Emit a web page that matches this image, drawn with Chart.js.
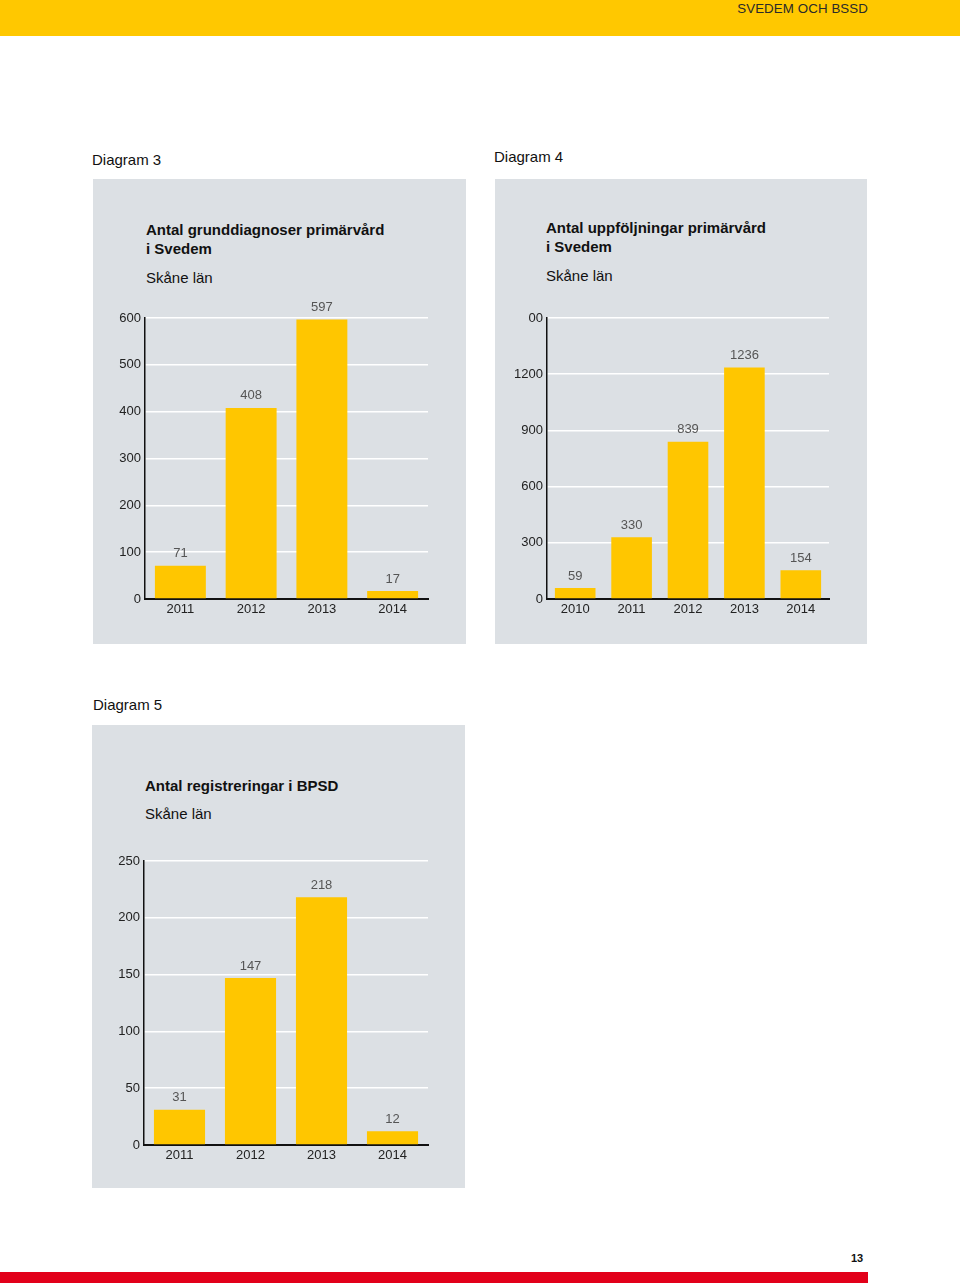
<!DOCTYPE html>
<html>
<head>
<meta charset="utf-8">
<script src="https://cdn.jsdelivr.net/npm/chart.js@4/dist/chart.umd.min.js"></script>
<style>
  html, body { margin: 0; padding: 0; background: #fff; }
  body { width: 960px; height: 1283px; position: relative; overflow: hidden; font-family: "Liberation Sans", Arial, sans-serif; }
  .header { position: absolute; left: 0; top: 0; width: 960px; height: 36px; background: #FFC800; }
  .header span { position: absolute; right: 92px; top: 1px; font-size: 13.3px; color: #2a2a2a; letter-spacing: 0.1px; }
  .diag { position: absolute; font-size: 15px; color: #111; }
  .panel { position: absolute; background: #DCE0E4; }
  .title { position: absolute; font-size: 15px; font-weight: bold; color: #111; line-height: 19px; }
  .sub { position: absolute; font-size: 15px; color: #111; }
  canvas { position: absolute; }
  .pagenum { position: absolute; left: 851px; top: 1252px; font-size: 11px; font-weight: bold; color: #111; }
  .redbar { position: absolute; left: 0; top: 1272px; width: 868px; height: 11px; background: #E2001A; }
</style>
</head>
<body>
<div class="header"><span>SVEDEM OCH BSSD</span></div>

<div class="diag" style="left:92px; top:151px;">Diagram 3</div>
<div class="panel" style="left:93px; top:179px; width:373px; height:465px;"></div>
<div class="title" style="left:146px; top:220px;">Antal grunddiagnoser primärvård<br>i Svedem</div>
<div class="sub" style="left:146px; top:269px;">Skåne län</div>
<canvas id="c1" width="373" height="350" style="left:93px; top:290px;"></canvas>

<div class="diag" style="left:494px; top:148px;">Diagram 4</div>
<div class="panel" style="left:495px; top:179px; width:372px; height:465px;"></div>
<div class="title" style="left:546px; top:218px;">Antal uppföljningar primärvård<br>i Svedem</div>
<div class="sub" style="left:546px; top:267px;">Skåne län</div>
<canvas id="c2" width="372" height="350" style="left:495px; top:290px;"></canvas>

<div class="diag" style="left:93px; top:696px;">Diagram 5</div>
<div class="panel" style="left:92px; top:725px; width:373px; height:463px;"></div>
<div class="title" style="left:145px; top:776px;">Antal registreringar i BPSD</div>
<div class="sub" style="left:145px; top:805px;">Skåne län</div>
<canvas id="c3" width="373" height="353" style="left:92px; top:833px;"></canvas>

<div class="pagenum">13</div>
<div class="redbar"></div>

<script>
// ---- Data ----
const years3 = ["2011", "2012", "2013", "2014"];
const values3 = [71, 408, 597, 17];
const ticks3 = ["0", "100", "200", "300", "400", "500", "600"];

const years4 = ["2010", "2011", "2012", "2013", "2014"];
const values4 = [59, 330, 839, 1236, 154];
const ticks4 = ["0", "300", "600", "900", "1200", "00"];

const years5 = ["2011", "2012", "2013", "2014"];
const values5 = [31, 147, 218, 12];
const ticks5 = ["0", "50", "100", "150", "200", "250"];

const BAR = "#FFC600";
const FONT = "'Liberation Sans', Arial, sans-serif";

const valueLabels = {
  id: "valueLabels",
  afterDatasetsDraw(chart) {
    const ctx = chart.ctx;
    const meta = chart.getDatasetMeta(0);
    const data = chart.data.datasets[0].data;
    ctx.save();
    ctx.font = "13px " + FONT;
    ctx.fillStyle = "#555";
    ctx.textAlign = "center";
    ctx.textBaseline = "middle";
    meta.data.forEach((bar, i) => {
      ctx.fillText(String(data[i]), bar.x, bar.y - 12);
    });
    ctx.restore();
  }
};

function makeChart(id, labels, values, tickLabels, step, padRight) {
  const max = step * (tickLabels.length - 1);
  return new Chart(document.getElementById(id), {
    type: "bar",
    data: {
      labels: labels,
      datasets: [{
        data: values,
        backgroundColor: BAR,
        borderWidth: 0,
        barPercentage: 0.72,
        categoryPercentage: 1.0
      }]
    },
    options: {
      responsive: false,
      animation: false,
      devicePixelRatio: 1,
      layout: { padding: { top: 28, right: padRight, bottom: 21, left: 0 } },
      plugins: { legend: { display: false }, tooltip: { enabled: false }, title: { display: false } },
      scales: {
        x: {
          grid: { display: false, drawTicks: false },
          border: { display: true, color: "#111", width: 2 },
          ticks: { color: "#222", font: { family: FONT, size: 13 }, padding: 3, maxRotation: 0 },
          afterFit(scale) { scale.height = 20; }
        },
        y: {
          min: 0,
          max: max,
          grid: {
            drawTicks: false,
            lineWidth: 1.5,
            color: (c) => (c.tick && c.tick.value === 0) ? "rgba(0,0,0,0)" : "#ffffff"
          },
          border: { display: true, color: "#111", width: 1.5 },
          ticks: {
            stepSize: step,
            color: "#222",
            font: { family: FONT, size: 13 },
            padding: 4,
            callback: (v) => tickLabels[Math.round(v / step)]
          },
          afterFit(scale) { scale.width = 52; }
        }
      }
    },
    plugins: [valueLabels]
  });
}

makeChart("c1", years3, values3, ticks3, 100, 38);
makeChart("c2", years4, values4, ticks4, 300, 38);
makeChart("c3", years5, values5, ticks5, 50, 37);
</script>
</body>
</html>
